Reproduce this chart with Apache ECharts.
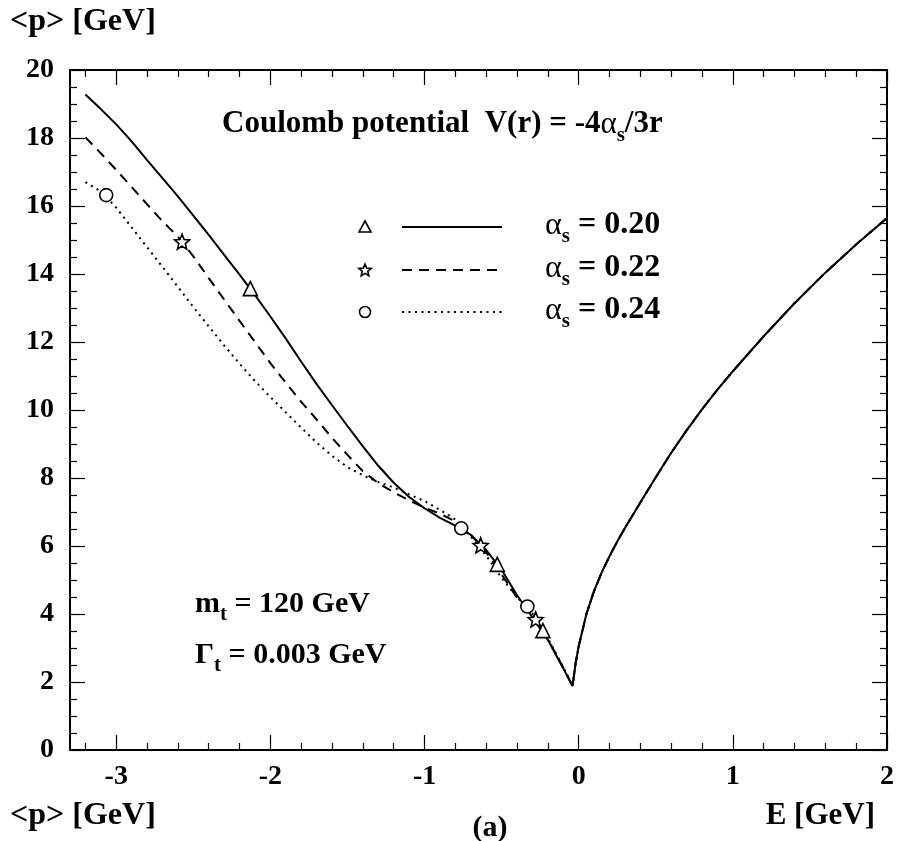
<!DOCTYPE html>
<html><head><meta charset="utf-8">
<script src="https://cdn.jsdelivr.net/npm/echarts@6/dist/echarts.min.js"></script>
<style>html,body{margin:0;padding:0;background:#fff}#c{width:899px;height:841px}</style>
</head><body><div id="c"></div>
<script>
// ---------- data ----------
const xMajorTicks = [-3, -2, -1, 0, 1, 2];
const xMinorTicks = [-3.2, -2.8, -2.6, -2.4, -2.2, -1.8, -1.6, -1.4, -1.2, -0.8, -0.6, -0.4, -0.2,
                     0.2, 0.4, 0.6, 0.8, 1.2, 1.4, 1.6, 1.8];
const yTickLabels = [0, 2, 4, 6, 8, 10, 12, 14, 16, 18, 20];

const energy = [-3.2,-3.1,-3.0,-2.9,-2.8,-2.7,-2.6,-2.5,-2.4,-2.3,-2.2,-2.1,-2.0,-1.9,-1.8,-1.7,-1.6,-1.5,
  -1.4,-1.3,-1.2,-1.1,-1.0,-0.9,-0.8,-0.7,-0.6,-0.5,-0.4,-0.3,-0.2,-0.1,-0.04,-0.02,0,0.05,0.1,0.15,0.2,0.25,
  0.3,0.4,0.5,0.6,0.7,0.8,0.9,1.0,1.2,1.4,1.6,1.8,2.0];

const p020 = [19.28,18.85,18.40,17.90,17.35,16.82,16.28,15.72,15.15,14.56,13.98,13.38,12.75,12.10,11.42,10.76,
  10.14,9.53,8.93,8.36,7.86,7.44,7.11,6.83,6.60,6.33,5.88,5.30,4.55,3.90,3.24,2.40,1.88,2.55,3.05,4.00,4.68,
  5.23,5.70,6.13,6.53,7.28,8.02,8.74,9.40,10.02,10.60,11.14,12.17,13.14,14.04,14.87,15.65];
const p022 = [18.02,17.55,17.06,16.56,16.05,15.55,15.10,14.52,13.88,13.25,12.62,12.00,11.38,10.80,10.24,9.72,
  9.18,8.68,8.20,7.85,7.58,7.34,7.13,6.95,6.72,6.33,5.82,5.16,4.48,3.97,3.26,2.42,1.88,2.55,3.05,4.00,4.68,
  5.23,5.70,6.13,6.53,7.28,8.02,8.74,9.40,10.02,10.60,11.14,12.17,13.14,14.04,14.87,15.65];
const p024 = [16.70,16.43,15.95,15.37,14.79,14.21,13.62,13.03,12.46,11.90,11.36,10.85,10.38,9.93,9.48,9.04,
  8.65,8.32,8.08,7.88,7.72,7.52,7.32,7.06,6.78,6.28,5.72,5.06,4.50,4.02,3.28,2.44,1.88,2.55,3.05,4.00,4.68,
  5.23,5.70,6.13,6.53,7.28,8.02,8.74,9.40,10.02,10.60,11.14,12.17,13.14,14.04,14.87,15.65];

const mark020 = [[-2.13, 13.57], [-0.528, 5.46], [-0.232, 3.51]];
const mark022 = [[-2.573, 14.95], [-0.636, 6.02], [-0.279, 3.84]];
const mark024 = [[-3.065, 16.32], [-0.762, 6.52], [-0.333, 4.22]];

// ---------- helpers ----------
const FONT = '"Liberation Serif","Times New Roman",serif';
const ctx = document.createElement('canvas').getContext('2d');
function fontStr(size, weight) { return (weight || 'bold') + ' ' + size + 'px ' + FONT; }
function measure(t, size, weight) { ctx.font = fontStr(size, weight); return ctx.measureText(t).width; }
// pieces: [{t,size,weight,dy}] placed on a baseline
function textRun(pieces, x, baseline, align) {
  let total = 0;
  pieces.forEach(p => { p.w = measure(p.t, p.size, p.weight); total += p.w; });
  let cx = align === 'right' ? x - total : (align === 'center' ? x - total / 2 : x);
  const els = [];
  pieces.forEach(p => {
    const by = baseline + (p.dy || 0);
    els.push({
      type: 'text', x: cx, y: by - 0.34 * p.size, z: 100,
      style: { text: p.t, font: fontStr(p.size, p.weight), fill: '#000', align: 'left', verticalAlign: 'middle' }
    });
    cx += p.w;
  });
  return els;
}
function starPoints(cx, cy, R, r) {
  const pts = [];
  for (let i = 0; i < 10; i++) {
    const a = -Math.PI / 2 + i * Math.PI / 5;
    const rad = i % 2 === 0 ? R : r;
    pts.push([cx + rad * Math.cos(a), cy + rad * Math.sin(a)]);
  }
  return pts;
}
function starPath() {
  const pts = starPoints(50, 52, 50, 22);
  return 'path://M' + pts.map(p => p[0].toFixed(2) + ',' + p[1].toFixed(2)).join('L') + 'Z';
}

const zip = (xs, ys) => xs.map((x, i) => [x, ys[i]]);

// ---------- axes ----------
const axisLineStyle = { color: '#000', width: 2 };
const tickStyle = { color: '#000', width: 1.2 };
const labelStyle = { color: '#000', fontFamily: FONT, fontWeight: 'bold', fontSize: 28 };

function xAxisDef(pos, major, showLabel) {
  return {
    type: 'value', min: -3.3, max: 2, position: pos,
    axisLine: { show: major, onZero: false, lineStyle: axisLineStyle },
    axisTick: { show: true, inside: true, length: major ? 15 : 7, lineStyle: tickStyle,
                customValues: major ? xMajorTicks : xMinorTicks },
    axisLabel: { show: showLabel, customValues: xMajorTicks, margin: 13, ...labelStyle,
                 formatter: v => String(v) },
    splitLine: { show: false }
  };
}
function yAxisDef(pos, showLabel) {
  return {
    type: 'value', min: 0, max: 20, interval: 2, position: pos,
    axisLine: { show: true, onZero: false, lineStyle: axisLineStyle },
    axisTick: { show: true, inside: true, length: 15, lineStyle: tickStyle },
    minorTick: { show: true, splitNumber: 4, length: 7, lineStyle: tickStyle },
    axisLabel: { show: showLabel, margin: 16, ...labelStyle,
                 formatter: v => (yTickLabels.indexOf(v) >= 0 ? String(v) : '') },
    splitLine: { show: false }, minorSplitLine: { show: false }
  };
}

// ---------- graphic texts / legend ----------
const graphics = [];
graphics.push(...textRun([{ t: '<p> [GeV]', size: 32 }], 10, 33));
graphics.push(...textRun([{ t: '<p> [GeV]', size: 32 }], 10, 827));
graphics.push(...textRun([{ t: '(a)', size: 30 }], 490, 838, 'center'));
graphics.push(...textRun([{ t: 'E [GeV]', size: 31 }], 875, 827, 'right'));
graphics.push(...textRun([
  { t: 'Coulomb potential  V(r) = -4', size: 31 },
  { t: 'α', size: 31, weight: 'normal' },
  { t: 's', size: 21, dy: 8 },
  { t: '/3r', size: 31 }
], 222, 135));
graphics.push(...textRun([
  { t: 'm', size: 30 }, { t: 't', size: 21, dy: 8 }, { t: ' = 120 GeV', size: 30 }
], 195, 614));
graphics.push(...textRun([
  { t: 'Γ', size: 30 }, { t: 't', size: 21, dy: 8 }, { t: ' = 0.003 GeV', size: 30 }
], 195, 665));

const legendRows = [
  { y: 227, label: '0.20', dash: null, sym: 'tri' },
  { y: 270, label: '0.22', dash: [10, 7], sym: 'star' },
  { y: 312, label: '0.24', dash: [2, 4.5], sym: 'circ' }
];
legendRows.forEach(r => {
  graphics.push({
    type: 'line', z: 100, shape: { x1: 402, y1: r.y, x2: 502, y2: r.y },
    style: { stroke: '#000', lineWidth: 2, lineDash: r.dash || null }
  });
  if (r.sym === 'tri') {
    graphics.push({ type: 'polygon', z: 100, shape: { points: [[365, r.y - 6], [371, r.y + 5], [359, r.y + 5]] },
      style: { fill: '#fff', stroke: '#000', lineWidth: 1.6 } });
  } else if (r.sym === 'star') {
    graphics.push({ type: 'polygon', z: 100, shape: { points: starPoints(365, r.y + 0.5, 6.5, 2.9) },
      style: { fill: '#fff', stroke: '#000', lineWidth: 1.6 } });
  } else {
    graphics.push({ type: 'circle', z: 100, shape: { cx: 365, cy: r.y, r: 5.5 },
      style: { fill: '#fff', stroke: '#000', lineWidth: 1.6 } });
  }
  graphics.push(...textRun([
    { t: 'α', size: 32, weight: 'normal' }, { t: 's', size: 21, dy: 8 }, { t: ' = ' + r.label, size: 32 }
  ], 545, r.y + 9));
});

// ---------- chart ----------
const chart = echarts.init(document.getElementById('c'), null, { renderer: 'canvas' });
const lineBase = { type: 'line', showSymbol: false, symbol: 'none', smooth: false, z: 3, animation: false,
                   xAxisIndex: 0, yAxisIndex: 0 };
const markBase = { type: 'scatter', z: 5, animation: false, xAxisIndex: 0, yAxisIndex: 0,
                   itemStyle: { color: '#fff', borderColor: '#000', borderWidth: 1.6, opacity: 1 } };
chart.setOption({
  backgroundColor: '#fff',
  animation: false,
  grid: { left: 70, right: 12, top: 70, bottom: 91, containLabel: false },
  xAxis: [xAxisDef('bottom', true, true), xAxisDef('bottom', false, false),
          xAxisDef('top', true, false), xAxisDef('top', false, false)],
  yAxis: [yAxisDef('left', true), yAxisDef('right', false)],
  series: [
    { ...lineBase, name: 'αs = 0.20', data: zip(energy, p020), lineStyle: { color: '#000', width: 2 } },
    { ...lineBase, name: 'αs = 0.22', data: zip(energy, p022), lineStyle: { color: '#000', width: 2, type: [10, 7] } },
    { ...lineBase, name: 'αs = 0.24', data: zip(energy, p024), lineStyle: { color: '#000', width: 2, type: [2, 4.5] } },
    { ...markBase, name: 'm020', data: mark020, symbol: 'triangle', symbolSize: 14 },
    { ...markBase, name: 'm022', data: mark022, symbol: starPath(), symbolSize: 15 },
    { ...markBase, name: 'm024', data: mark024, symbol: 'circle', symbolSize: 13 }
  ],
  graphic: graphics
});
</script>
</body></html>
